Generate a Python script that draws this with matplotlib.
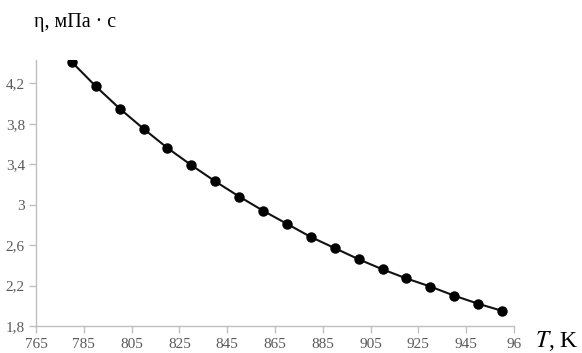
import numpy as np
import matplotlib
matplotlib.use("Agg")
import matplotlib.pyplot as plt
from matplotlib.ticker import FuncFormatter

# temperature, K and viscosity, mPa*s
temp = [780, 790, 800, 810, 820, 830, 840, 850, 860, 870,
        880, 890, 900, 910, 920, 930, 940, 950, 960]
visc = [4.41, 4.17, 3.95, 3.75, 3.56, 3.39, 3.23, 3.08, 2.94, 2.81,
        2.68, 2.57, 2.46, 2.36, 2.27, 2.19, 2.10, 2.02, 1.95]

x_ticks = np.arange(765, 966, 20)
y_ticks = [1.8, 2.2, 2.6, 3.0, 3.4, 3.8, 4.2]

plt.rcParams['font.family'] = ['Liberation Serif', 'DejaVu Serif']
plt.rcParams['mathtext.fontset'] = 'stix'

fig = plt.figure(figsize=(5.82, 3.53), dpi=100)
ax = fig.add_axes([36/582, 27/353, (514-36)/582, (326-60)/353])

ax.plot(temp, visc, color='#111111', lw=1.5, marker='o', ms=6.5,
        mfc='black', mec='black')

ax.set_xlim(765, 965)
ax.set_ylim(1.8, 4.43)
ax.set_xticks(x_ticks)
ax.set_yticks(y_ticks)

def fmt_y(v, pos):
    s = f"{v:.1f}".rstrip('0').rstrip('.')
    return s.replace('.', ',')

def fmt_x(v, pos):
    s = str(int(round(v)))
    return s[:2] if v >= 965 else s

ax.yaxis.set_major_formatter(FuncFormatter(fmt_y))
ax.xaxis.set_major_formatter(FuncFormatter(fmt_x))

for side in ['top', 'right']:
    ax.spines[side].set_visible(False)
for side in ['left', 'bottom']:
    ax.spines[side].set_color('#bfbfbf')
    ax.spines[side].set_linewidth(1.0)

ax.tick_params(axis='both', colors='#bfbfbf', length=5, width=1.0,
               labelcolor='#595959', labelsize=11)
ax.tick_params(axis='x', pad=4)
ax.tick_params(axis='y', pad=3)

fig.text(34/582, 1 - 22/353, 'η, мПа · с', fontsize=14.5, color='black',
         va='center', ha='left')
fig.text(535/582, 1 - 341/353, r'$\mathit{T}$, K', fontsize=17, color='black',
         va='center', ha='left')

fig.savefig('out.png', dpi=100)
